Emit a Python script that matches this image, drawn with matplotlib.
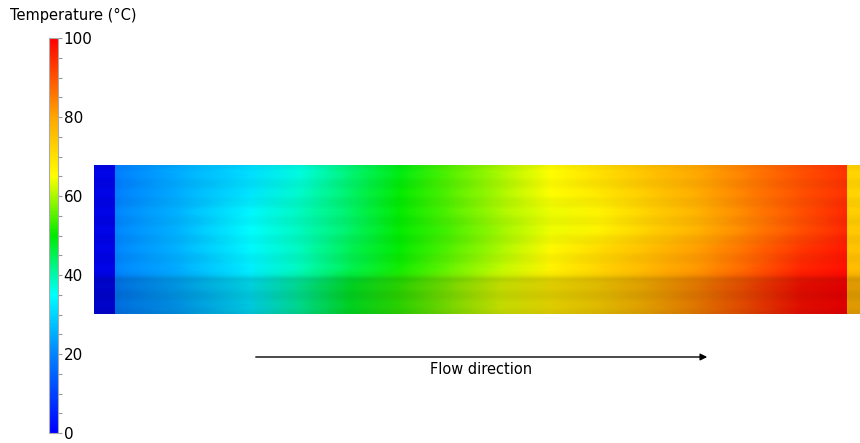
import numpy as np
import matplotlib
matplotlib.use("Agg")
import matplotlib.pyplot as plt
from matplotlib.colors import LinearSegmentedColormap

# Temperature field of the channel (°C). Columns are sample positions along the
# channel (fraction of its length), rows are the eight flow passages, top to bottom.
positions = [0.0, 0.09, 0.186, 0.254, 0.322, 0.39, 0.458, 0.527, 0.595, 0.663,
             0.731, 0.80, 0.868, 0.936, 1.0]
row_1 = [19, 25, 31, 37, 43, 49, 55, 60, 65, 70, 75, 80, 85, 90, 94]
row_2 = [19, 25, 32, 38, 44, 50, 55, 60, 65, 69, 74, 79, 85, 90, 94]
row_3 = [20, 26, 34, 39, 44, 50, 55, 60, 64, 67, 73, 78, 84, 90, 95]
row_4 = [20, 26, 35, 39, 44, 50, 54, 59, 64, 67, 73, 78, 84, 90, 95]
row_5 = [20, 26, 34, 39, 45, 50, 55, 60, 66, 71, 76, 81, 87, 93, 97]
row_6 = [20, 25, 33, 39, 45, 51, 56, 61, 67, 72, 77, 82, 88, 95, 98]
row_7 = [19, 25, 33, 41, 48, 53, 58, 63, 68, 72, 78, 84, 91, 98, 100]
row_8 = [19, 24, 32, 41, 48, 53, 58, 63, 68, 72, 78, 84, 91, 98, 100]
inlet_temp = [1, 1, 1, 1, 1, 1, 1, 1]
outlet_temp = [72, 72, 73, 74, 75, 76, 78, 78]

cbar_ticks = [0, 20, 40, 60, 80, 100]

rainbow = LinearSegmentedColormap.from_list(
    "rainbow_temp",
    [(0.00, (0.00, 0.00, 1.00)),
     (0.20, (0.00, 0.52, 1.00)),
     (0.35, (0.00, 1.00, 1.00)),
     (0.50, (0.00, 0.92, 0.00)),
     (0.65, (1.00, 1.00, 0.00)),
     (0.80, (1.00, 0.65, 0.00)),
     (1.00, (1.00, 0.00, 0.00))])

W, H = 860, 443
fig = plt.figure(figsize=(W / 100, H / 100), dpi=100)

# Channel view
x_left, x_right = -0.0273, 1.0177
ax = fig.add_axes([94 / W, (H - 314) / H, (W - 94) / W, 149 / H])
ax.axis("off")

rows = [row_8, row_7, row_6, row_5, row_4, row_3, row_2, row_1]  # bottom to top
field = np.array(rows, dtype=float)
y_nodes = np.arange(8) + 0.5
# pad to the channel walls
field_full = np.vstack([field[:1], field, field[-1:]])
y_full = np.concatenate([[0.0], y_nodes, [8.0]])
X, Y = np.meshgrid(positions, y_full)
ax.pcolormesh(X, Y, field_full, cmap=rainbow, vmin=0, vmax=100,
              shading="gouraud", zorder=1)

inlet = np.array(inlet_temp[::-1], dtype=float)[:, None]
ax.imshow(inlet, cmap=rainbow, vmin=0, vmax=100, extent=[x_left, 0, 0, 8],
          origin="lower", aspect="auto", interpolation="bilinear", zorder=1)
outlet = np.array(outlet_temp[::-1], dtype=float)[:, None]
ax.imshow(outlet, cmap=rainbow, vmin=0, vmax=100, extent=[1.0, 1.04, 0, 8],
          origin="lower", aspect="auto", interpolation="bilinear", zorder=1)

# passage shading: faint seams between passages, lower passages in shadow
shade = []
for i in range(8):
    base = 0.13 if i < 2 else 0.0
    shade += [base + 0.035, base, base, base + 0.035]
shade = np.clip(np.array(shade), 0, 1)[:, None]
ax.imshow(np.zeros_like(shade), cmap="gray", vmin=0, vmax=1, alpha=shade,
          extent=[x_left, 1.04, 0, 8], origin="lower", aspect="auto",
          interpolation="bilinear", zorder=3)
# inlet header sits slightly in shadow
ax.imshow(np.zeros((1, 1)), cmap="gray", vmin=0, vmax=1, alpha=0.1,
          extent=[x_left, 0, 0, 8], aspect="auto", zorder=3)
ax.set_xlim(x_left, x_right)
ax.set_ylim(0, 8)

# Colorbar
cax = fig.add_axes([49 / W, (H - 433) / H, 9 / W, 395 / H])
sm = plt.cm.ScalarMappable(cmap=rainbow, norm=plt.Normalize(0, 100))
cb = fig.colorbar(sm, cax=cax, ticks=cbar_ticks)
cb.outline.set_edgecolor("#aaaaaa")
cb.outline.set_linewidth(0.8)
cax.yaxis.set_minor_locator(matplotlib.ticker.MultipleLocator(5))
cax.tick_params(which="both", length=3, width=0.8, color="#999999",
                labelsize=11, pad=1)
fig.text(10 / W, (H - 15) / H, "Temperature (°C)", fontsize=10.5,
         ha="left", va="center")

# Flow direction arrow
fig.add_artist(matplotlib.patches.FancyArrowPatch(
    (253 / W, (H - 357) / H), (710 / W, (H - 357) / H),
    transform=fig.transFigure, arrowstyle="-|>", mutation_scale=10,
    lw=1.0, color="black"))
fig.text(481 / W, (H - 369) / H, "Flow direction", fontsize=10.5,
         ha="center", va="center")

fig.savefig("out.png", dpi=100)
